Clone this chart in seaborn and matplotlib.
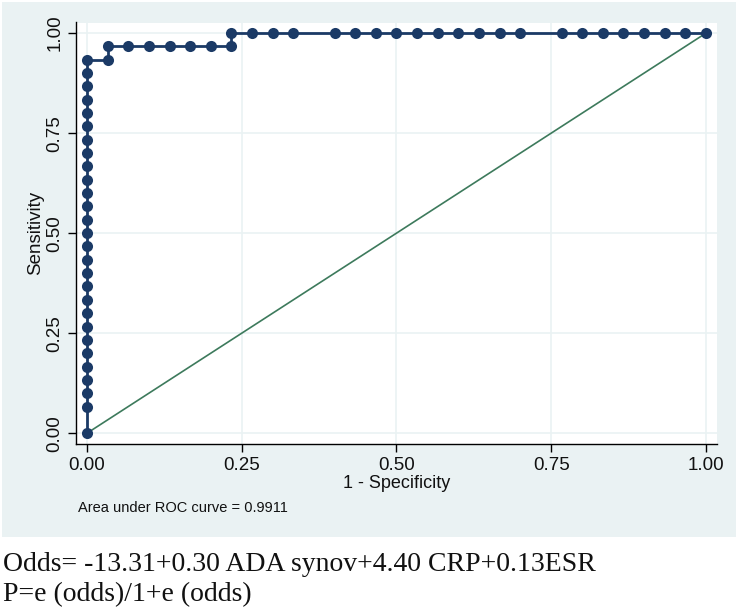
import matplotlib
matplotlib.use('Agg')
import matplotlib.pyplot as plt
import matplotlib.patches as mpatches
import numpy as np
import seaborn as sns

# ROC points (counts out of 30 negatives / 30 positives)
n_neg = 30
n_pos = 30
fp_counts = [0, 0, 0, 0, 0, 0, 0, 0, 0, 0, 0, 0, 0, 0, 0, 0, 0, 0, 0, 0,
             0, 0, 0, 0, 0, 0, 0, 0,
             1, 1, 2, 3, 4, 5, 6, 7,
             7, 8, 9, 10, 12, 13, 14, 15, 16, 17, 18, 19, 20, 21,
             23, 24, 25, 26, 27, 28, 29, 30]
tp_counts = [0, 2, 3, 4, 5, 6, 7, 8, 9, 10, 11, 12, 13, 14, 15, 16, 17, 18,
             19, 20, 21, 22, 23, 24, 25, 26, 27, 28,
             28, 29, 29, 29, 29, 29, 29, 29,
             30, 30, 30, 30, 30, 30, 30, 30, 30, 30, 30, 30, 30, 30,
             30, 30, 30, 30, 30, 30, 30, 30]
ref_x = [0, 1]
ref_y = [0, 1]
ticks = [0, 0.25, 0.5, 0.75, 1.0]
tick_labels = ["0.00", "0.25", "0.50", "0.75", "1.00"]
auc_text = "Area under ROC curve = 0.9911"
eq_lines = ["Odds= -13.31+0.30 ADA synov+4.40 CRP+0.13ESR",
            "P=e (odds)/1+e (odds)"]

fpr = np.array(fp_counts) / n_neg
tpr = np.array(tp_counts) / n_pos

sns.set_theme(style="white")
plt.rcParams['font.family'] = ['Liberation Sans', 'DejaVu Sans']

BG = "#eaf2f3"
NAVY = "#1b3a66"
GREEN = "#3d7a5c"

fig = plt.figure(figsize=(7.42, 6.12), dpi=100)
fig.patch.set_facecolor("white")
fig.patches.append(mpatches.Rectangle((2 / 742, 1 - 537 / 612), 734 / 742, 535 / 612,
                                      transform=fig.transFigure, facecolor=BG,
                                      edgecolor="none", zorder=-1))

ax = fig.add_axes([76 / 742, 1 - 444 / 612, 641 / 742, 421.5 / 612])
ax.set_zorder(2)
ax.set_facecolor("white")

sns.lineplot(x=ref_x, y=ref_y, color=GREEN, lw=1.2, ax=ax,
             estimator=None, sort=False)
sns.lineplot(x=fpr, y=tpr, color=NAVY, lw=2.0, marker='o', markersize=8,
             markeredgewidth=0, markerfacecolor=NAVY, estimator=None,
             sort=False, ax=ax)

ax.set_xlim(-0.0178, 1.0178)
ax.set_ylim(-0.027, 1.0265)
ax.set_xticks(ticks)
ax.set_xticklabels(tick_labels)
ax.set_yticks(ticks)
ax.set_yticklabels(tick_labels, rotation=90, va='center')
ax.grid(True, color=BG, lw=1.2)
ax.set_axisbelow(True)
for s in ['top', 'right']:
    ax.spines[s].set_visible(False)
for s in ['left', 'bottom']:
    ax.spines[s].set_color('black')
    ax.spines[s].set_linewidth(1.0)
ax.tick_params(axis='both', direction='out', length=6, width=1, color='black',
               labelsize=13.5, labelcolor='#111111', pad=3, bottom=True, left=True)
ax.set_xlabel("1 - Specificity", fontsize=13, labelpad=1, color='#111111')
ax.set_ylabel("Sensitivity", fontsize=13.5, labelpad=2, color='#111111')

fig.text(78 / 742, 1 - 508 / 612, auc_text, fontsize=10.5, va='center',
         ha='left', color='#111111')

fig.text(3 / 742, 1 - 571 / 612, eq_lines[0], fontsize=20, va='baseline',
         ha='left', family=['Liberation Serif', 'DejaVu Serif'], color='#111111')
fig.text(3 / 742, 1 - 601 / 612, eq_lines[1], fontsize=20, va='baseline',
         ha='left', family=['Liberation Serif', 'DejaVu Serif'], color='#111111')

fig.savefig("out.png", dpi=100, facecolor="white")
